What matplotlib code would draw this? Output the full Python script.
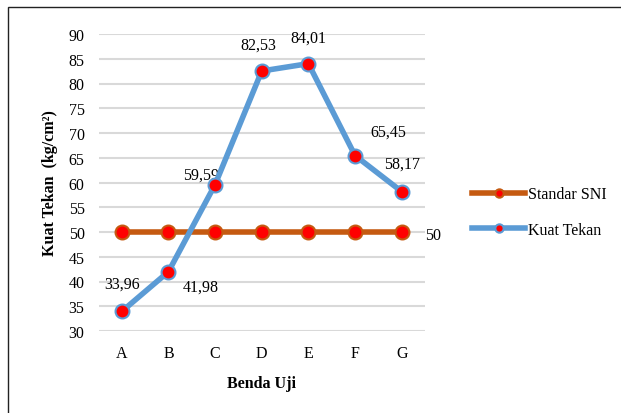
import matplotlib.pyplot as plt
import matplotlib.patches as patches

# data
samples = ["A", "B", "C", "D", "E", "F", "G"]
kuat_tekan = [33.96, 41.98, 59.59, 82.53, 84.01, 65.45, 58.17]
standar_sni = [50, 50, 50, 50, 50, 50, 50]
label_kuat = ["33,96", "41,98", "59,59", "82,53", "84,01", "65,45", "58,17"]
yticks = [30, 35, 40, 45, 50, 55, 60, 65, 70, 75, 80, 85, 90]

plt.rcParams['font.family'] = ['Liberation Serif', 'DejaVu Serif']
fs = 11.5

fig = plt.figure(figsize=(6.21, 4.14), dpi=100)
ax = fig.add_axes([98.5 / 621, 1 - 332 / 414, (425 - 98.5) / 621, (332 - 35) / 414])

# outer frame like the exported chart box
fig.patches.append(patches.Rectangle((8 / 621, -0.1), 1.2, 1 - 8 / 414 + 0.1,
                                     transform=fig.transFigure, fill=False,
                                     edgecolor='#222222', linewidth=1.0))

x = list(range(len(samples)))

ax.plot(x, standar_sni, color='#c55a11', linewidth=4, marker='o',
        markersize=10, markerfacecolor='#ff0000', markeredgecolor='#c55a11',
        markeredgewidth=1.5, label='Standar SNI', zorder=3)
ax.plot(x, kuat_tekan, color='#5b9bd5', linewidth=4, marker='o',
        markersize=10, markerfacecolor='#ff0000', markeredgecolor='#5b9bd5',
        markeredgewidth=1.5, label='Kuat Tekan', zorder=4)

# data labels (offsets in pixels)
offsets = [(0, 28), (32, -15), (-14, 10), (-3, 26), (0, 26), (33, 24), (0, 28)]
for xi, yi, txt, off in zip(x, kuat_tekan, label_kuat, offsets):
    ax.annotate(txt, (xi, yi), xytext=off, textcoords='offset pixels',
                ha='center', va='center', fontsize=fs)
ax.annotate("50", (x[-1], standar_sni[-1]), xytext=(31, -3), textcoords='offset pixels',
            ha='center', va='center', fontsize=fs, annotation_clip=False)

ax.set_xlim(-0.5, len(samples) - 0.5)
ax.set_ylim(30, 90)
ax.set_yticks(yticks)
ax.set_xticks(x)
ax.set_xticklabels(samples)
ax.tick_params(length=0, labelsize=fs, pad=10)
ax.tick_params(axis='y', pad=10)
for s in ax.spines.values():
    s.set_visible(False)
ax.grid(axis='y', color='#d9d9d9', linewidth=1.5)
ax.set_axisbelow(True)

ax.set_xlabel("Benda Uji", fontsize=fs, fontweight='bold', labelpad=10)
ax.set_ylabel("Kuat Tekan  (kg/cm²)", fontsize=fs, fontweight='bold', labelpad=8)

fig.legend(loc='center left', bbox_to_anchor=(458 / 621, 1 - 213 / 414), frameon=False,
           fontsize=fs, handlelength=3.3, labelspacing=1.2, handletextpad=0.2,
           markerscale=0.6)

fig.savefig("out.png", dpi=100)
